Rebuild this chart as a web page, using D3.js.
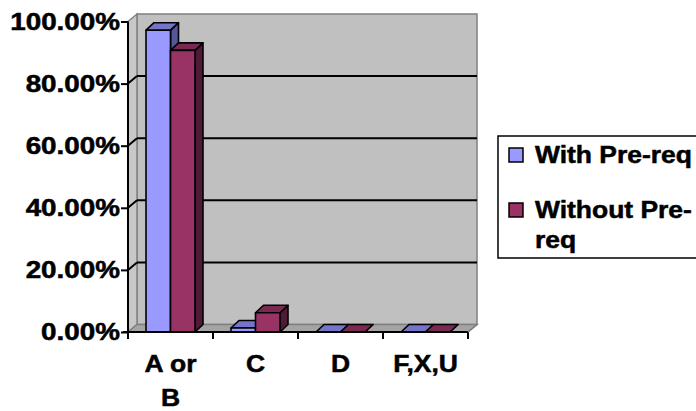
<!DOCTYPE html>
<html>
<head>
<meta charset="utf-8">
<script src="https://cdn.jsdelivr.net/npm/d3@7"></script>
<style>
  html, body { margin: 0; padding: 0; background: #fff; }
  svg { display: block; }
  text { font-family: "Liberation Sans", Arial, sans-serif; font-weight: bold; fill: #000; stroke: #000; stroke-width: 0.5px; }
</style>
</head>
<body>
<svg id="chart" width="696" height="411"></svg>
<script>
const categories = ["A or B", "C", "D", "F,X,U"];
const categoryLines = [["A or", "B"], ["C"], ["D"], ["F,X,U"]];
const seriesNames = ["With Pre-req", "Without Pre-req"];
const withPrereq = [97.2, 1.3, 0, 0];
const withoutPrereq = [90.7, 6.2, 0, 0];
const yTicks = [0, 20, 40, 60, 80, 100];
const legendLines = [["With Pre-req"], ["Without Pre-", "req"]];

const colors = {
  front: ["#9999FF", "#993366"],
  top: ["#7474C8", "#7A2952"],
  side: ["#55559A", "#4F1A35"]
};

const svg = d3.select("#chart");
const X0 = 128, X1 = 468, YB = 332, YT = 21.5;
const DX = 9, DY = -7.5;     // wall depth offset
const BDX = 8, BDY = -7.5;   // bar depth offset
const SX = 1.15;             // horizontal text stretch
const SXT = 1.21;            // stretch for tick labels
const FS = 23;

const x = d3.scaleBand().domain(categories).range([X0, X1]).padding(0);
const bw = 24.5;
const xs = d3.scaleBand().domain(seriesNames).range([0, x.bandwidth()])
  .paddingInner(0).paddingOuter((x.bandwidth() - 2 * bw) / 2 / bw);
const y = d3.scaleLinear().domain([0, 100]).range([YB, YT]);

// back wall
svg.append("rect")
  .attr("x", X0 + DX).attr("y", y(100) + DY)
  .attr("width", X1 - X0).attr("height", y(0) - y(100))
  .attr("fill", "#C0C0C0").attr("stroke", "#808080").attr("stroke-width", 1.5);

// side wall
svg.append("polygon")
  .attr("points", [[X0, y(100)], [X0 + DX, y(100) + DY], [X0 + DX, y(0) + DY], [X0, y(0)]].map(p => p.join(",")).join(" "))
  .attr("fill", "#C8C8C8").attr("stroke", "#808080").attr("stroke-width", 1.5);

// floor
svg.append("polygon")
  .attr("points", [[X0, y(0)], [X0 + DX, y(0) + DY], [X1 + DX, y(0) + DY], [X1, y(0)]].map(p => p.join(",")).join(" "))
  .attr("fill", "#A4A4A4").attr("stroke", "#808080").attr("stroke-width", 1.5);

// gridlines (back wall + side wall)
yTicks.filter(v => v > 0 && v < 100).forEach(v => {
  svg.append("line")
    .attr("x1", X0 + DX).attr("x2", X1 + DX)
    .attr("y1", y(v) + DY).attr("y2", y(v) + DY)
    .attr("stroke", "#000").attr("stroke-width", 2);
  svg.append("line")
    .attr("x1", X0).attr("x2", X0 + DX)
    .attr("y1", y(v)).attr("y2", y(v) + DY)
    .attr("stroke", "#000").attr("stroke-width", 2);
});

// bars
const data = [];
categories.forEach((c, i) => {
  data.push({ c, s: 0, v: withPrereq[i] });
  data.push({ c, s: 1, v: withoutPrereq[i] });
});
const bars = svg.append("g");
data.forEach(d => {
  const xl = x(d.c) + xs(seriesNames[d.s]);
  const xr = xl + xs.bandwidth();
  const yt = y(d.v), yb = y(0);
  const g = bars.append("g").attr("stroke", "#000").attr("stroke-width", 1.6).attr("stroke-linejoin", "round");
  g.append("polygon")
    .attr("points", [[xr, yt], [xr + BDX, yt + BDY], [xr + BDX, yb + BDY], [xr, yb]].map(p => p.join(",")).join(" "))
    .attr("fill", colors.side[d.s]);
  g.append("polygon")
    .attr("points", [[xl, yt], [xl + BDX, yt + BDY], [xr + BDX, yt + BDY], [xr, yt]].map(p => p.join(",")).join(" "))
    .attr("fill", colors.top[d.s]);
  g.append("rect")
    .attr("x", xl).attr("y", yt).attr("width", xr - xl).attr("height", Math.max(0, yb - yt))
    .attr("fill", colors.front[d.s]);
});

// y axis
const yAxis = svg.append("g").attr("transform", `translate(${X0},0)`)
  .call(d3.axisLeft(y).tickValues(yTicks).tickSize(7).tickFormat(""));
yAxis.selectAll("path, line").attr("stroke", "#000").attr("stroke-width", 2);
yAxis.select(".domain").attr("d", `M0,${y(100)}V${y(0) + 7}`);

yTicks.forEach(v => {
  svg.append("text")
    .attr("transform", `translate(${X0 - 8},${y(v)}) scale(${SXT},1)`)
    .attr("text-anchor", "end").attr("dy", "0.36em")
    .attr("font-size", FS)
    .text(d3.format(".2f")(v) + "%");
});

// x axis
const xAxis = svg.append("g").attr("transform", `translate(0,${YB})`)
  .call(d3.axisBottom(x).tickSize(0).tickFormat(""));
xAxis.select(".domain").attr("d", `M${X0 - 5},0H${X1}`).attr("stroke", "#000").attr("stroke-width", 2);
categories.concat([null]).forEach((c, i) => {
  const xx = c === null ? X1 : x(c);
  svg.append("line").attr("x1", xx).attr("x2", xx).attr("y1", YB).attr("y2", YB + 7)
    .attr("stroke", "#000").attr("stroke-width", 2);
});
svg.append("line").attr("x1", X1).attr("y1", YB).attr("x2", X1 + DX).attr("y2", YB + DY)
  .attr("stroke", "#808080").attr("stroke-width", 1.5);

categories.forEach((c, i) => {
  const cx = x(c) + x.bandwidth() / 2;
  categoryLines[i].forEach((line, j) => {
    svg.append("text")
      .attr("transform", `translate(${cx},${372 + j * 34}) scale(${SX},1)`)
      .attr("text-anchor", "middle")
      .attr("font-size", FS)
      .text(line);
  });
});

// legend
const legend = svg.append("g");
legend.append("rect").attr("x", 498).attr("y", 136).attr("width", 210).attr("height", 122)
  .attr("fill", "#fff").attr("stroke", "#000").attr("stroke-width", 1.5);
const legendBase = [163, 218];
seriesNames.forEach((s, i) => {
  legend.append("rect").attr("x", 509).attr("y", legendBase[i] - 15).attr("width", 14).attr("height", 14)
    .attr("fill", colors.front[i]).attr("stroke", "#000").attr("stroke-width", 1.5);
  legendLines[i].forEach((line, j) => {
    legend.append("text")
      .attr("transform", `translate(535,${legendBase[i] + j * 30}) scale(${SX},1)`)
      .attr("font-size", FS)
      .text(line);
  });
});
</script>
</body>
</html>
